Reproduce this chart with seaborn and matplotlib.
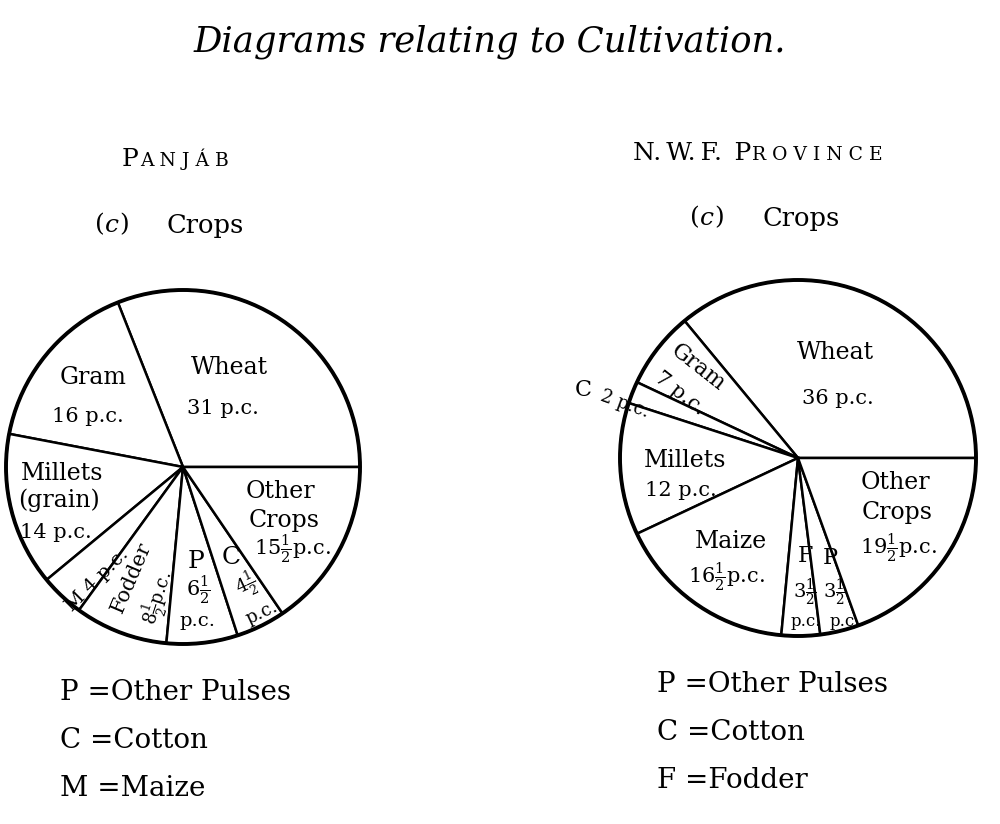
import matplotlib.pyplot as plt
import seaborn as sns

#%% Data (per cent of cropped area)
panjab_crops = ['Wheat', 'Gram', 'Millets (grain)', 'Maize', 'Fodder',
                'Other Pulses', 'Cotton', 'Other Crops']
panjab_pct = [31, 16, 14, 4, 8.5, 6.5, 4.5, 15.5]

nwfp_crops = ['Wheat', 'Gram', 'Cotton', 'Millets', 'Maize', 'Fodder',
              'Other Pulses', 'Other Crops']
nwfp_pct = [36, 7, 2, 12, 16.5, 3.5, 3.5, 19.5]

panjab_key = ['P =Other Pulses', 'C =Cotton', 'M =Maize']
nwfp_key = ['P =Other Pulses', 'C =Cotton', 'F =Fodder']

HALF = r'$\frac{1}{2}$'

#%% Label layout (pixel positions on the page, rotation, size)
panjab_labels = [
    ('Wheat', 229, 367, 0, 17), ('31 p.c.', 223, 408, 0, 15),
    ('Gram', 93, 377, 0, 17), ('16 p.c.', 88, 416, 0, 15),
    ('Millets', 62, 473, 0, 17), ('(grain)', 59, 500, 0, 17), ('14 p.c.', 56, 532, 0, 15),
    ('M 4 p.c.', 97, 580, 45, 14),
    ('Fodder', 131, 577, 67, 15), ('8' + HALF + 'p.c.', 158, 598, 72, 13),
    ('P', 196, 561, 0, 18), ('6' + HALF, 198, 590, 0, 15), ('p.c.', 197, 621, 0, 14),
    ('C', 231, 557, 0, 18), ('4' + HALF, 246, 585, 25, 13), ('p.c.', 262, 613, 25, 13),
    ('Other', 280, 491, 0, 17), ('Crops', 284, 521, 0, 17), ('15' + HALF + 'p.c.', 292, 549, 0, 15),
]
nwfp_labels = [
    ('Wheat', 835, 352, 0, 17), ('36 p.c.', 838, 398, 0, 15),
    ('Gram', 698, 368, -38, 16), ('7 p.c.', 680, 393, -38, 15),
    ('C', 583, 390, 0, 16), ('2 p.c.', 625, 404, -20, 13),
    ('Millets', 685, 460, 0, 17), ('12 p.c.', 681, 490, 0, 15),
    ('Maize', 731, 541, 0, 17), ('16' + HALF + 'p.c.', 726, 577, 0, 15),
    ('F', 805, 556, 0, 16), ('3' + HALF, 805, 593, 0, 14), ('p.c.', 806, 622, 0, 12),
    ('P', 830, 558, 0, 16), ('3' + HALF, 835, 593, 0, 14), ('p.c.', 845, 622, 0, 12),
    ('Other', 895, 482, 0, 17), ('Crops', 897, 512, 0, 17), ('19' + HALF + 'p.c.', 898, 548, 0, 15),
]

#%% Plot
sns.set_theme(style='white')
plt.rcParams['font.family'] = ['DejaVu Serif']
plt.rcParams['mathtext.fontset'] = 'dejavuserif'
plt.rcParams['text.color'] = 'black'

fig = plt.figure(figsize=(10, 8.24), dpi=100)
ax = fig.add_axes([0, 0, 1, 1])

pies = [
    (panjab_pct, (183, 467), 177),
    (nwfp_pct, (798, 458), 178),
]
for values, center, radius in pies:
    # y axis is inverted below, so clockwise here reads anticlockwise on the page
    ax.pie(values, colors=['white'] * len(values), startangle=0, counterclock=False,
           center=center, radius=radius,
           wedgeprops=dict(edgecolor='black', linewidth=1.8))
    ax.add_patch(plt.Circle(center, radius, fill=False, edgecolor='black', linewidth=2.8))

for labels in (panjab_labels, nwfp_labels):
    for txt, x, y, rot, size in labels:
        ax.text(x, y, txt, ha='center', va='center', rotation=rot, fontsize=size,
                rotation_mode='anchor')

ax.set_xlim(0, 1000)
ax.set_ylim(824, 0)
ax.set_aspect('equal')
ax.axis('off')

# headings
ax.text(490, 42, 'Diagrams relating to Cultivation.', ha='center', va='center',
        fontsize=25.5, style='italic')


def small_caps(x, y, big, small):
    # big capital followed by letter-spaced small capitals on the same baseline
    t = ax.text(x, y, big, ha='left', va='baseline', fontsize=18)
    fig.canvas.draw()
    bb = t.get_window_extent().transformed(ax.transData.inverted())
    ax.text(bb.x1 + 1, y, small, ha='left', va='baseline', fontsize=13.5)


small_caps(122, 166, 'P', 'A N J Á B')
small_caps(633, 160, 'N.\u2009W.\u2009F.\u2002P', 'R O V I N C E')

for (px, cx), cy in [((112, 205), 225), ((707, 801), 218)]:
    ax.text(px - 12, cy, '(', ha='center', va='center', fontsize=18)
    ax.text(px, cy, 'c', ha='center', va='center', fontsize=18, style='italic')
    ax.text(px + 12, cy, ')', ha='center', va='center', fontsize=18)
    ax.text(cx, cy, 'Crops', ha='center', va='center', fontsize=18.5)

# keys
for i, line in enumerate(panjab_key):
    ax.text(60, 692 + i * 48.5, line, ha='left', va='center', fontsize=20)
for i, line in enumerate(nwfp_key):
    ax.text(657, 685 + i * 47.5, line, ha='left', va='center', fontsize=20)

fig.savefig('out.png', dpi=100, facecolor='white')
